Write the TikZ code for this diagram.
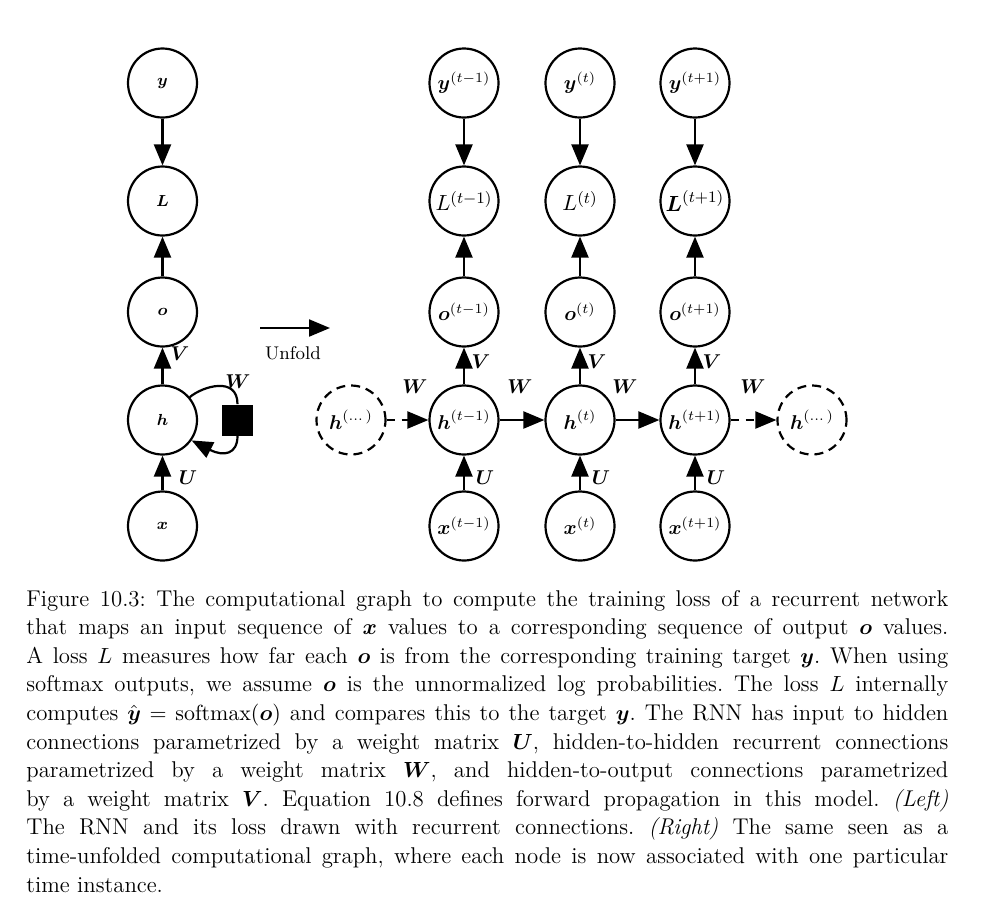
\documentclass[tikz,border=0pt]{standalone}
\usepackage{amsmath}
\usetikzlibrary{arrows.meta}

\begin{document}
\begin{tikzpicture}[
    x=0.5pt, y=-0.5pt,
    unit/.style={circle, draw, line width=1.1pt, minimum size=34.5pt, inner sep=0pt},
    ghost/.style={unit, dash pattern=on 4.5pt off 3pt},
    smallunit/.style={unit, font=\fontsize{8}{9.6}\selectfont},
    bigunit/.style={unit, font=\fontsize{10}{12}\selectfont},
    lossunit/.style={unit, font=\fontsize{11}{13}\selectfont},
    flow/.style={-{Triangle[length=10.5pt,width=8.5pt]}, line width=1.1pt},
    dflow/.style={flow, dash pattern=on 4pt off 3.5pt},
    wlabel/.style={inner sep=0pt, font=\fontsize{10}{12}\selectfont},
    sqbox/.style={fill=black, draw=none, minimum size=15.5pt, inner sep=0pt}
  ]
  \useasboundingbox (0,0) rectangle (981,896);

  % ---------- folded network (left) ----------
  \node[smallunit] (ly) at (162.5,83)  {$\boldsymbol{y}$};
  \node[smallunit] (lL) at (162.5,201) {$\boldsymbol{L}$};
  \node[smallunit] (lo) at (162.5,312) {$\boldsymbol{o}$};
  \node[smallunit] (lh) at (162.5,420) {$\boldsymbol{h}$};
  \node[smallunit] (lx) at (162.5,526) {$\boldsymbol{x}$};
  \node[sqbox] (lsq) at (237.5,420) {};

  \draw[flow] (ly) -- (lL);
  \draw[flow] (lo) -- (lL);
  \draw[flow] (lh) -- (lo);
  \draw[flow] (lx) -- (lh);
  % recurrent loop through the delay square
  \draw[line width=1.1pt] (lh.40) .. controls (203,386) and (237.5,376) .. (lsq.north);
  \draw[flow] (lsq.south) .. controls (237.5,454) and (224,457) .. (lh.-35);

  \node[wlabel] (lV) at (180,354) {$\boldsymbol{V}$};
  \node[wlabel] (lU) at (188,478) {$\boldsymbol{U}$};
  \node[wlabel] (lW) at (238,382) {$\boldsymbol{W}$};

  % ---------- unfold arrow ----------
  \coordinate (u1) at (260,328);
  \coordinate (u2) at (330,328);
  \draw[flow] (u1) -- (u2);
  \node[inner sep=0pt, font=\fontsize{9.2}{11}\selectfont] (ulab) at (293,353) {Unfold};

  % ---------- unfolded network (right) ----------
  \foreach \c/\x/\t in {a/464/t-1, b/580/t, c/695/t+1} {
    \node[bigunit] (y\c) at (\x,83)  {$\boldsymbol{y}^{(\t)}$};
    \node[bigunit] (o\c) at (\x,312) {$\boldsymbol{o}^{(\t)}$};
    \node[bigunit] (h\c) at (\x,420) {$\boldsymbol{h}^{(\t)}$};
    \node[bigunit] (x\c) at (\x,526) {$\boldsymbol{x}^{(\t)}$};
  }
  \node[lossunit] (La) at (464,201) {$L^{(t-1)}$};
  \node[lossunit] (Lb) at (580,201) {$L^{(t)}$};
  \node[lossunit] (Lc) at (695,201) {$\boldsymbol{L}^{(t+1)}$};

  \node[ghost, font=\fontsize{10}{12}\selectfont] (hp) at (351,420) {$\boldsymbol{h}^{(\dots)}$};
  \node[ghost, font=\fontsize{10}{12}\selectfont] (hn) at (812,420) {$\boldsymbol{h}^{(\dots)}$};

  \foreach \c in {a,b,c} {
    \draw[flow] (y\c) -- (L\c);
    \draw[flow] (o\c) -- (L\c);
    \draw[flow] (h\c) -- (o\c);
    \draw[flow] (x\c) -- (h\c);
  }
  \draw[dflow] (hp) -- (ha);
  \draw[flow] (ha) -- (hb);
  \draw[flow] (hb) -- (hc);
  \draw[dflow] (hc) -- (hn);

  \foreach \c/\x in {a/464, b/580, c/695} {
    \node[wlabel] (V\c) at (\x+17,362) {$\boldsymbol{V}$};
    \node[wlabel] (U\c) at (\x+21,478) {$\boldsymbol{U}$};
  }
  \node[wlabel] (W1) at (415,387) {$\boldsymbol{W}$};
  \node[wlabel] (W2) at (520,387) {$\boldsymbol{W}$};
  \node[wlabel] (W3) at (625,387) {$\boldsymbol{W}$};
  \node[wlabel] (W4) at (753,387) {$\boldsymbol{W}$};

  % ---------- caption ----------
  \node[anchor=base west, inner sep=0pt, text width=461pt, align=justify,
        font=\fontsize{11.4}{14.3}\selectfont] (cap) at (26,606)
  {\frenchspacing\hyphenpenalty=10000\tolerance=9999\emergencystretch=2em
   Figure 10.3: The computational graph to compute the training loss of a recurrent network\linebreak
   that maps an input sequence of $\boldsymbol{x}$ values to a corresponding sequence of output $\boldsymbol{o}$ values.\linebreak
   A loss $L$ measures how far each $\boldsymbol{o}$ is from the corresponding training target $\boldsymbol{y}$. When using\linebreak
   softmax outputs, we assume $\boldsymbol{o}$ is the unnormalized log probabilities. The loss $L$ internally\linebreak
   computes $\hat{\boldsymbol{y}} = \operatorname{softmax}(\boldsymbol{o})$ and compares this to the target $\boldsymbol{y}$. The RNN has input to hidden\linebreak
   connections parametrized by a weight matrix $\boldsymbol{U}$, hidden-to-hidden recurrent connections\linebreak
   parametrized by a weight matrix $\boldsymbol{W}$, and hidden-to-output connections parametrized\linebreak
   by a weight matrix $\boldsymbol{V}$. Equation 10.8 defines forward propagation in this model. \textit{(Left)}\linebreak
   The RNN and its loss drawn with recurrent connections. \textit{(Right)} The same seen as a\linebreak
   time-unfolded computational graph, where each node is now associated with one particular\linebreak
   time instance.};
\end{tikzpicture}
\end{document}
